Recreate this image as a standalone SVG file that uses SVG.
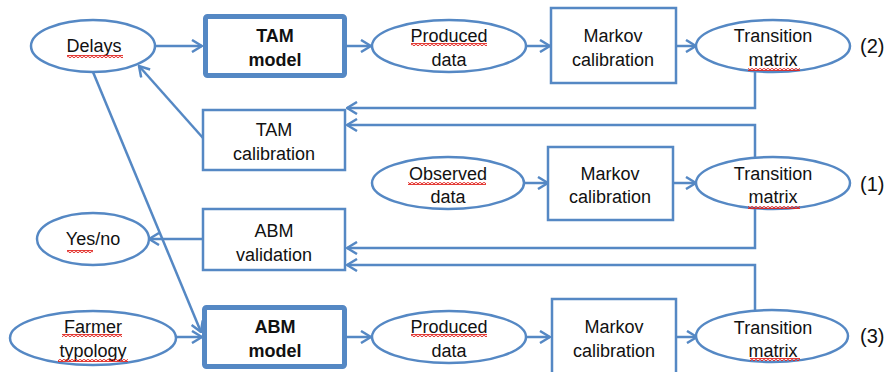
<svg xmlns="http://www.w3.org/2000/svg" width="891" height="372" viewBox="0 0 891 372">
<defs>
<style>
.shape{fill:#ffffff;stroke:#5588c4;stroke-width:2.5}
.thick{fill:#ffffff;stroke:#5588c4;stroke-width:5}
.conn{fill:none;stroke:#5588c4;stroke-width:2.5}
text{font-family:"Liberation Sans",Arial,sans-serif;font-size:18px;fill:#111111;text-anchor:middle}
.b{font-weight:bold}
.lbl{font-size:20px;text-anchor:start}
</style>
<marker id="arr" viewBox="0 0 12 14" refX="11" refY="7" markerWidth="12" markerHeight="14" markerUnits="userSpaceOnUse" orient="auto">
<path d="M1,1 L11,7 L1,13" fill="none" stroke="#5588c4" stroke-width="2.5"/>
</marker>
<pattern id="wave" width="4" height="3" patternUnits="userSpaceOnUse">
<path d="M0,2.5 L2,0.5 L4,2.5" fill="none" stroke="#e0201a" stroke-width="1.4"/>
</pattern>
</defs>
<rect width="891" height="372" fill="#ffffff"/>

<g id="connectors">
<path class="conn" d="M155,46 H202" marker-end="url(#arr)"/>
<path class="conn" d="M347,46 H371" marker-end="url(#arr)"/>
<path class="conn" d="M526,46 H550" marker-end="url(#arr)"/>
<path class="conn" d="M676,46 H696" marker-end="url(#arr)"/>
<path class="conn" d="M755,72 V108 H347" marker-end="url(#arr)"/>
<path class="conn" d="M755,157 V125 H347" marker-end="url(#arr)"/>
<path class="conn" d="M203,138 L139,66" marker-end="url(#arr)"/>
<path class="conn" d="M524,183 H548" marker-end="url(#arr)"/>
<path class="conn" d="M673,183 H696" marker-end="url(#arr)"/>
<path class="conn" d="M755,209 V248 H347" marker-end="url(#arr)"/>
<path class="conn" d="M755,310 V265 H347" marker-end="url(#arr)"/>
<path class="conn" d="M203,239 H149" marker-end="url(#arr)"/>
<path class="conn" d="M93,72 L201,332" marker-end="url(#arr)"/>
<path class="conn" d="M176,337 H202" marker-end="url(#arr)"/>
<path class="conn" d="M347,337 H371" marker-end="url(#arr)"/>
<path class="conn" d="M525,337 H550" marker-end="url(#arr)"/>
<path class="conn" d="M676,337 H697" marker-end="url(#arr)"/>
</g>

<g id="delays">
<ellipse class="shape" cx="93" cy="46" rx="62" ry="26"/>
<text x="94" y="52">Delays</text>
<rect x="67" y="55" width="56" height="3" fill="url(#wave)"/>
</g>

<g id="tam-model">
<rect class="thick" x="205.5" y="16.5" width="139" height="59" rx="2"/>
<text class="b" x="275" y="42">TAM</text>
<text class="b" x="275" y="66">model</text>
</g>

<g id="produced-data-1">
<ellipse class="shape" cx="449" cy="46" rx="77" ry="26"/>
<text x="449" y="42">Produced</text>
<text x="449" y="66">data</text>
<rect x="411" y="43" width="76" height="3" fill="url(#wave)"/>
</g>

<g id="markov-1">
<rect class="shape" x="551" y="8" width="125" height="75"/>
<text x="613" y="42">Markov</text>
<text x="613" y="66">calibration</text>
</g>

<g id="transition-2">
<ellipse class="shape" cx="773" cy="46" rx="77" ry="26"/>
<text x="773" y="42">Transition</text>
<text x="773" y="66">matrix</text>
<rect x="748" y="68" width="52" height="3" fill="url(#wave)"/>
</g>
<g id="label-2"><text class="lbl" x="860" y="53">(2)</text></g>

<g id="tam-calibration">
<rect class="shape" x="203" y="110" width="142" height="60"/>
<text x="274" y="136">TAM</text>
<text x="274" y="160">calibration</text>
</g>

<g id="observed-data">
<ellipse class="shape" cx="448" cy="183" rx="76" ry="26"/>
<text x="448" y="180">Observed</text>
<text x="448" y="203">data</text>
<rect x="408" y="182" width="78" height="3" fill="url(#wave)"/>
</g>

<g id="markov-2">
<rect class="shape" x="548" y="147" width="125" height="73"/>
<text x="610" y="180">Markov</text>
<text x="610" y="203">calibration</text>
</g>

<g id="transition-1">
<ellipse class="shape" cx="773" cy="183" rx="77" ry="26"/>
<text x="773" y="180">Transition</text>
<text x="773" y="203">matrix</text>
<rect x="748" y="206" width="52" height="3" fill="url(#wave)"/>
</g>
<g id="label-1"><text class="lbl" x="860" y="191">(1)</text></g>

<g id="yes-no">
<ellipse class="shape" cx="93" cy="239" rx="56" ry="26"/>
<text x="93" y="245">Yes/no</text>
<rect x="67" y="250" width="26" height="3" fill="url(#wave)"/>
</g>

<g id="abm-validation">
<rect class="shape" x="203" y="209" width="142" height="61"/>
<text x="274" y="237">ABM</text>
<text x="274" y="261">validation</text>
</g>

<g id="farmer-typology">
<ellipse class="shape" cx="93" cy="338" rx="83" ry="27"/>
<text x="93" y="333">Farmer</text>
<text x="93" y="357">typology</text>
<rect x="62" y="334" width="60" height="3" fill="url(#wave)"/>
<rect x="58" y="359" width="70" height="3" fill="url(#wave)"/>
</g>

<g id="abm-model">
<rect class="thick" x="204.5" y="307.5" width="140" height="59" rx="2"/>
<text class="b" x="275" y="333">ABM</text>
<text class="b" x="275" y="357">model</text>
</g>

<g id="produced-data-3">
<ellipse class="shape" cx="449" cy="337" rx="77" ry="26"/>
<text x="449" y="333">Produced</text>
<text x="449" y="357">data</text>
<rect x="411" y="334" width="76" height="3" fill="url(#wave)"/>
</g>

<g id="markov-3">
<rect class="shape" x="552" y="299" width="124" height="80"/>
<text x="614" y="333">Markov</text>
<text x="614" y="357">calibration</text>
</g>

<g id="transition-3">
<ellipse class="shape" cx="772" cy="336" rx="76" ry="26"/>
<text x="773" y="334">Transition</text>
<text x="773" y="357">matrix</text>
<rect x="750" y="358" width="50" height="3" fill="url(#wave)"/>
</g>
<g id="label-3"><text class="lbl" x="860" y="343">(3)</text></g>
</svg>
